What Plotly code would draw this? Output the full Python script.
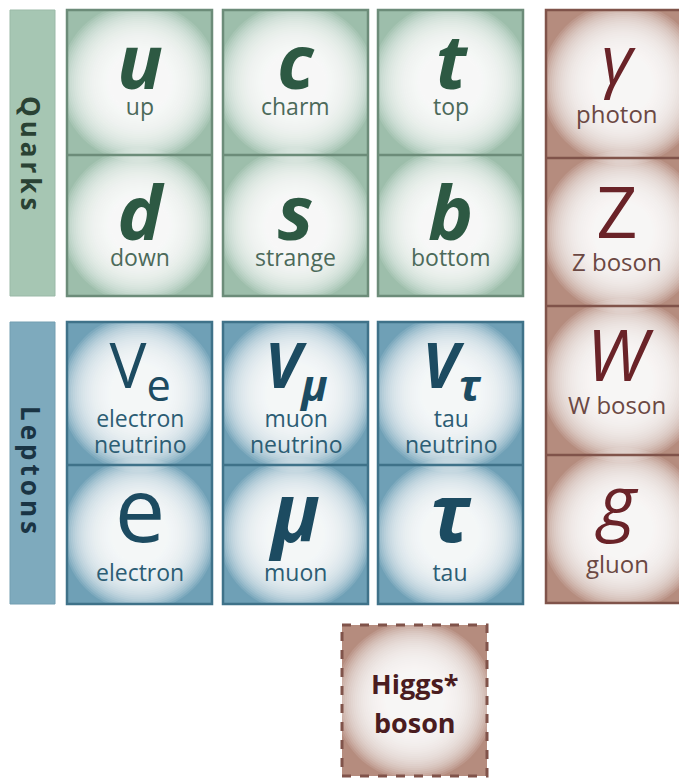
import plotly.graph_objects as go

# particle data
quark_symbols = [["u", "c", "t"], ["d", "s", "b"]]
quark_names = [["up", "charm", "top"], ["down", "strange", "bottom"]]
lepton_symbols = [["V<sub>e</sub>", "<i><b>V<sub>μ</sub></b></i>", "<i><b>V<sub>τ</sub></b></i>"],
                  ["e", "<i><b>μ</b></i>", "<i><b>τ</b></i>"]]
lepton_names = [["electron<br>neutrino", "muon<br>neutrino", "tau<br>neutrino"],
                ["electron", "muon", "tau"]]
boson_symbols = ["<i>γ</i>", "Z", "<i>W</i>", "<i>g</i>"]
boson_names = ["photon", "Z boson", "W boson", "gluon"]
higgs_label = ["Higgs*", "boson"]
group_labels = ["Quarks", "Leptons"]

# colours
GREEN_FILL, GREEN_LINE, GREEN_BAR = "#9dbeab", "#6c8c79", "#a6c6b3"
BLUE_FILL, BLUE_LINE, BLUE_BAR = "#6fa0b6", "#3f7289", "#7eaabd"
BROWN_FILL, BROWN_LINE = "#b58c7e", "#80534a"

W, H = 687, 779
OFF = 8  # page margin of the html body
col_x = [67, 223, 378]
cell_w = 145
quark_rows = [10, 155, 296]
lepton_rows = [322, 465, 604]
boson_x = [546, 700]
boson_rows = [10, 158, 306, 455, 603]
higgs_box = [342, 487, 625, 776]

BASE = 5          # base font size -> line step 6.5 px
rects = []
glows = []
frames = []
annotations = []


def cell(x0, x1, y0, y1, fill):
    rects.append(dict(type="rect", xref="x", yref="y", layer="below",
                      x0=x0, x1=x1, y0=y0, y1=y1, fillcolor=fill, line_width=0))
    # soft white radial glow from stacked translucent circles
    cx, cy, m = (x0 + x1) / 2, (y0 + y1) / 2, min(x1 - x0, y1 - y0)
    n = 26
    for i in range(n):
        r = m * (0.55 - 0.36 * i / n)
        glows.append(dict(type="circle", xref="x", yref="y", layer="below",
                          x0=cx - r, x1=cx + r, y0=cy - r, y1=cy + r,
                          fillcolor="rgba(255,255,255,0.11)", line_width=0))


def group_frame(x0, x1, rows, line, dash="solid"):
    frames.append(dict(type="rect", xref="x", yref="y", layer="below",
                       x0=x0, x1=x1, y0=rows[0], y1=rows[-1],
                       line=dict(color=line, width=2.5 if dash == "solid" else 3, dash=dash)))
    for y in rows[1:-1]:
        frames.append(dict(type="line", xref="x", yref="y", layer="below",
                           x0=x0, x1=x1, y0=y, y1=y, line=dict(color=line, width=2.5)))


def span(s, size, color, weight="normal"):
    return "<span style='font-size:%dpx;color:%s;font-weight:%s'>%s</span>" % (size, color, weight, s)


def block(x, baseline, parts, gaps):
    # parts: styled lines, gaps: px between baselines (multiples of 6.5)
    txt = parts[0]
    for p, g in zip(parts[1:], gaps):
        txt += "<br>" * int(round(g / (BASE * 1.3))) + p
    annotations.append(dict(x=x, y=baseline + 7, xref="x", yref="y", text=txt,
                            showarrow=False, xanchor="center", yanchor="bottom",
                            align="center", font=dict(family="Open Sans", size=BASE,
                                                      color="#333")))


# side bars
rects.append(dict(type="rect", xref="x", yref="y", layer="below", x0=10, x1=55,
                  y0=quark_rows[0], y1=quark_rows[-1], fillcolor=GREEN_BAR,
                  line=dict(color="#9ab9a7", width=1)))
rects.append(dict(type="rect", xref="x", yref="y", layer="below", x0=10, x1=55,
                  y0=lepton_rows[0], y1=lepton_rows[-1], fillcolor=BLUE_BAR,
                  line=dict(color="#729eb1", width=1)))
for lab, yc, col in [(group_labels[0], 155, "#2a4234"), (group_labels[1], 472, "#1a3444")]:
    annotations.append(dict(x=31, y=yc, xref="x", yref="y",
                            text="<span style='letter-spacing:4px'>%s</span>" % lab,
                            showarrow=False, textangle=90,
                            font=dict(family="Open Sans", size=26, color=col, weight="bold")))

# quarks
q_base = [117, 268]
for r in range(2):
    y0, y1 = quark_rows[r], quark_rows[r + 1]
    for c in range(3):
        x0 = col_x[c]
        cell(x0, x0 + cell_w, y0, y1, GREEN_FILL)
        sym = span("<b><i>%s</i></b>" % quark_symbols[r][c], 76, "#2d5943")
        block(x0 + cell_w / 2, q_base[r], [sym, span(quark_names[r][c], 23, "#4c6a5a")], [26])
for c in range(3):
    group_frame(col_x[c], col_x[c] + cell_w, quark_rows, GREEN_LINE)

# leptons
for r in range(2):
    y0, y1 = lepton_rows[r], lepton_rows[r + 1]
    for c in range(3):
        x0 = col_x[c]
        cell(x0, x0 + cell_w, y0, y1, BLUE_FILL)
        names = [span(n, 23, "#2c5d74") for n in lepton_names[r][c].split("<br>")]
        if r == 0:
            sym = span(lepton_symbols[r][c], 62, "#1c4b61")
            block(x0 + cell_w / 2, 455, [sym] + names, [39, 26])
        else:
            size = 90 if c == 0 else 80
            sym = span(lepton_symbols[r][c], size, "#1c4b61")
            block(x0 + cell_w / 2, 583, [sym] + names, [39])
for c in range(3):
    group_frame(col_x[c], col_x[c] + cell_w, lepton_rows, BLUE_LINE)

# force carriers
b_base = [125, 273, 416, 575]
b_gap = [39, 32.5, 32.5, 45.5]
b_size = [68, 72, 72, 72]
for i in range(4):
    y0, y1 = boson_rows[i], boson_rows[i + 1]
    cell(boson_x[0], boson_x[1], y0, y1, BROWN_FILL)
    sym = span(boson_symbols[i], b_size[i], "#6a2328")
    block(617, b_base[i], [sym, span(boson_names[i], 24, "#6b4843")], [b_gap[i]])
group_frame(boson_x[0], boson_x[1], boson_rows, BROWN_LINE)

# higgs
hx0, hx1, hy0, hy1 = higgs_box
cell(hx0, hx1, hy0, hy1, BROWN_FILL)
group_frame(hx0, hx1, [hy0, hy1], BROWN_LINE, dash="dash")
block((hx0 + hx1) / 2, 736, [span(t, 27, "#4a1c1f", "bold") for t in higgs_label], [41.6])

fig = go.Figure()
fig.update_layout(
    width=W, height=H,
    margin=dict(l=0, r=0, t=0, b=0),
    paper_bgcolor="white", plot_bgcolor="white",
    xaxis=dict(range=[OFF, W + OFF], visible=False, fixedrange=True),
    yaxis=dict(range=[H + OFF, OFF], visible=False, fixedrange=True),
    shapes=rects + glows + frames, annotations=annotations, showlegend=False,
)

fig.write_html("out.html")
